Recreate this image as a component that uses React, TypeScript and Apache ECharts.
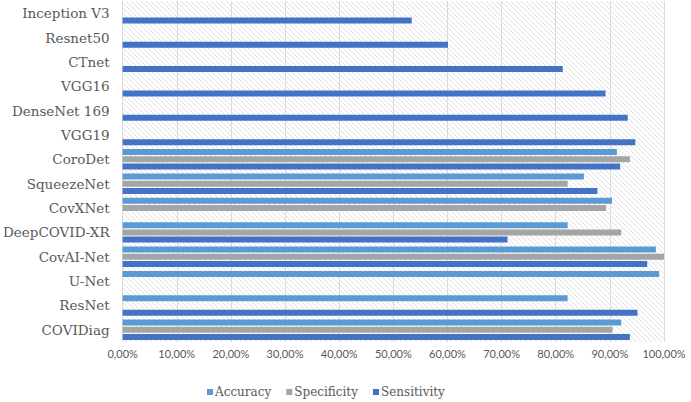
import React, { useEffect, useRef } from "react";
import * as echarts from "echarts";

// Categories from bottom to top of the chart
const categories = [
  "COVIDiag",
  "ResNet",
  "U-Net",
  "CovAI-Net",
  "DeepCOVID-XR",
  "CovXNet",
  "SqueezeNet",
  "CoroDet",
  "VGG19",
  "DenseNet 169",
  "VGG16",
  "CTnet",
  "Resnet50",
  "Inception V3",
];

const accuracy = [0.921, 0.822, 0.991, 0.985, 0.822, 0.904, 0.852, 0.913, null, null, null, null, null, null];
const specificity = [0.905, null, null, 1.0, 0.921, 0.893, 0.822, 0.937, null, null, null, null, null, null];
const sensitivity = [0.937, 0.951, null, 0.969, 0.711, null, 0.877, 0.919, 0.947, 0.933, 0.892, 0.813, 0.601, 0.534];

const seriesNames = ["Accuracy", "Specificity", "Sensitivity"];
const seriesColors = ["#5B9BD5", "#A5A5A5", "#4472C4"];

function makeHatch(): HTMLCanvasElement {
  const c = document.createElement("canvas");
  const s = 5;
  c.width = s;
  c.height = s;
  const ctx = c.getContext("2d")!;
  ctx.fillStyle = "#ffffff";
  ctx.fillRect(0, 0, s, s);
  ctx.fillStyle = "#dedede";
  for (let i = 0; i < s; i++) ctx.fillRect(i, i, 1, 1);
  return c;
}

export default function App() {
  const ref = useRef<HTMLDivElement>(null);
  useEffect(() => {
    document.body.style.margin = "0";
    const chart = echarts.init(ref.current!, undefined, { renderer: "svg" });
    const data = [accuracy, specificity, sensitivity];
    chart.setOption({
      animation: false,
      backgroundColor: "#ffffff",
      grid: {
        left: 122,
        right: 27,
        top: 1,
        bottom: 60,
        show: true,
        borderWidth: 0,
        backgroundColor: { image: makeHatch(), repeat: "repeat" },
      },
      legend: {
        data: seriesNames,
        left: 202,
        top: 381,
        itemWidth: 6,
        itemHeight: 6,
        itemGap: 15,
        icon: "rect",
        textStyle: { fontFamily: "DejaVu Serif", fontSize: 12, color: "#595959", padding: [0, 0, 0, -3] },
      },
      xAxis: {
        type: "value",
        min: 0,
        max: 1,
        interval: 0.1,
        axisLine: { show: false },
        axisTick: { show: false },
        splitLine: { show: true, lineStyle: { color: "#dadada", width: 1 } },
        axisLabel: {
          margin: 6,
          fontFamily: "Lato",
          fontSize: 11,
          color: "#595959",
          formatter: (v: number) => (v * 100).toFixed(2).replace(".", ",") + "%",
        },
      },
      yAxis: {
        type: "category",
        data: categories,
        axisLine: { show: false },
        axisTick: { show: false },
        splitLine: { show: false },
        axisLabel: {
          margin: 13,
          fontFamily: "DejaVu Serif",
          fontSize: 13.5,
          color: "#595959",
        },
      },
      series: seriesNames.map((name, i) => ({
        name,
        type: "bar",
        data: data[i],
        barWidth: 6,
        barGap: "20%",
        itemStyle: { color: seriesColors[i] },
      })),
    });
    return () => chart.dispose();
  }, []);
  return <div ref={ref} style={{ width: 691, height: 402 }} />;
}
